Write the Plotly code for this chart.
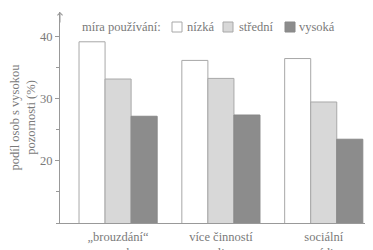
import plotly.graph_objects as go

categories = ["„brouzdání“<br>na webu", "více činností<br>online", "sociální<br>média"]
series_names = ["nízká", "střední", "vysoká"]
nizka = [39.2, 36.2, 36.5]
stredni = [33.2, 33.3, 29.5]
vysoka = [27.2, 27.4, 23.5]
y_ticks = [20, 30, 40]
legend_title = "míra používání:"

fills = ["#ffffff", "#d8d8d8", "#8c8c8c"]
lines = ["#a8a8a8", "#a8a8a8", "#888888"]
txt = "#7a7a7a"
font_family = "Liberation Serif"

OFF = 8  # default page body margin
W, H = 373 - OFF, 250 - OFF
L, R, T, B = 60 - OFF, 3, 12 - OFF, 27
pw, ph = W - L - R, H - T - B
def px(x):  # page pixel -> paper
    return (x - OFF - L) / pw
def py(y):
    return (H - B - (y - OFF)) / ph

fig = go.Figure()
for name, vals, f, lc in zip(series_names, [nizka, stredni, vysoka], fills, lines):
    fig.add_trace(go.Bar(x=categories, y=vals, name=name,
                         marker=dict(color=f, line=dict(color=lc, width=1))))

fig.update_layout(
    width=W, height=H,
    margin=dict(l=L, r=R, t=T, b=B),
    paper_bgcolor="white", plot_bgcolor="white",
    font=dict(family=font_family, size=12, color=txt),
    barmode="group", bargap=0.24, bargroupgap=0,
    showlegend=False,
)
fig.update_xaxes(showline=True, linecolor="#999999", linewidth=1, ticks="", showgrid=False,
                 range=[-0.565, 2.45], tickfont=dict(size=12.5), ticklabelstandoff=2,
                 automargin=False)
fig.update_yaxes(showline=True, linecolor="#999999", linewidth=1, ticks="outside", ticklen=4,
                 tickcolor="#999999", tickvals=y_ticks, range=[10, 44], showgrid=False, zeroline=False,
                 tickfont=dict(size=12.5), automargin=False,
                 minor=dict(ticks="outside", ticklen=3, tickcolor="#999999", dtick=5, tick0=5, showgrid=False),
                 title=dict(text="podíl osob s vysokou<br>pozornosti (%)", standoff=3, font=dict(size=12.5)))
fig.add_annotation(x=0, xref="paper", y=44, yref="y", ax=0, ay=12, axref="pixel", ayref="pixel",
                   showarrow=True, arrowhead=4, arrowsize=1, arrowwidth=1, arrowcolor="#999999", text="")

# legend drawn manually
fig.add_annotation(x=px(80), y=py(27), xref="paper", yref="paper", xanchor="left", yanchor="middle",
                   text=legend_title, showarrow=False, font=dict(size=12.5))
box_x = [172, 223, 285]
text_x = [185, 237, 297]
for name, f, lc, bx, tx in zip(series_names, fills, lines, box_x, text_x):
    fig.add_shape(type="rect", xref="paper", yref="paper", x0=px(bx), x1=px(bx + 10),
                  y0=py(32), y1=py(22), fillcolor=f, line=dict(color=lc, width=1))
    fig.add_annotation(x=px(tx), y=py(27), xref="paper", yref="paper", xanchor="left", yanchor="middle",
                       text=name, showarrow=False, font=dict(size=12.5))
fig.write_html("out.html")
